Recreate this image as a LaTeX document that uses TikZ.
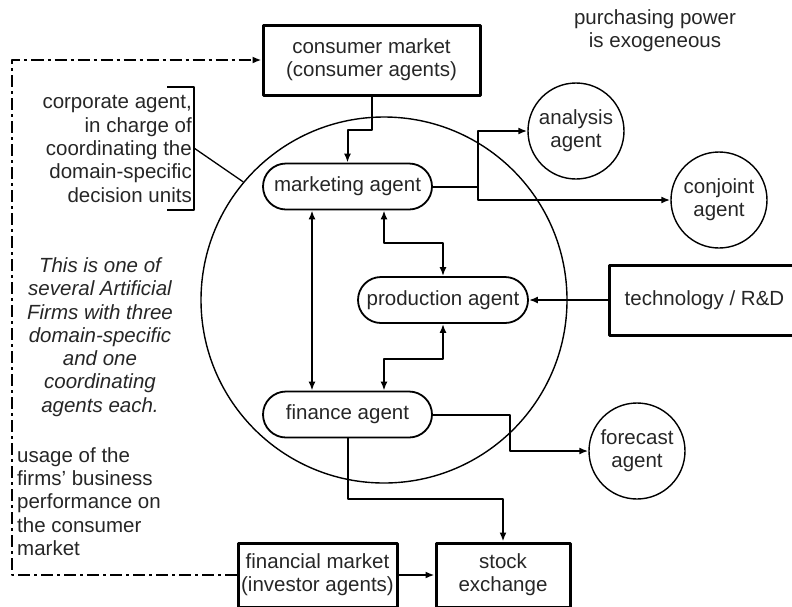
\documentclass[tikz,border=0pt]{standalone}
\usepackage{fontspec}
\setmainfont{Liberation Sans}
\usetikzlibrary{arrows.meta}
\begin{document}
\begin{tikzpicture}[x=1pt,y=-1pt,line join=round,
    font=\fontsize{20.5}{23.3}\selectfont,text=black!85,
    box/.style={draw,line width=3pt,align=center,inner sep=0pt},
    agent/.style={draw,line width=1.8pt,rounded corners=23pt,minimum height=46pt,inner sep=0pt},
    helper/.style={draw,circle,line width=1.4pt,minimum size=96pt,align=center,inner sep=0pt},
    arr/.style={-{Latex[length=9pt,width=7pt]},line width=2pt},
    both/.style={{Latex[length=9pt,width=7pt]}-{Latex[length=9pt,width=7pt]},line width=2pt},
    note/.style={inner sep=0pt}]
    \useasboundingbox (0,0) rectangle (792,606);
    \clip (0,0) rectangle (792,606);
    %firm
    \node[draw,circle,line width=1.4pt,minimum size=366pt] (firm) at (384,300) {};
    %boxes
    \node[box,minimum width=217pt,minimum height=70pt] (cm) at (371.5,60) {consumer market\\(consumer agents)};
    \node[box,minimum width=191pt,minimum height=70pt] (tech) at (704.5,300) {technology / R\&D};
    \node[box,minimum width=159pt,minimum height=64pt] (fmk) at (317.5,575) {financial market\\(investor agents)};
    \node[box,minimum width=134pt,minimum height=64pt] (stk) at (503,575) {stock\\exchange};
    %agents
    \node[agent,minimum width=169pt] (mkt) at (347.5,186.5) {marketing agent};
    \node[agent,minimum width=170pt] (prod) at (443,300) {production agent};
    \node[agent,minimum width=169pt] (fin) at (347.5,414.5) {finance agent};
    \node[helper] (ana) at (576,131) {analysis\\agent};
    \node[helper] (conj) at (719,200) {conjoint\\agent};
    \node[helper] (fore) at (637,451) {forecast\\agent};
    %texts
    \node[note,align=center] (pp) at (655,31) {purchasing power\\is exogeneous};
    \node[note,align=right,anchor=east] (corp) at (192,149) {corporate agent,\\in charge of\\coordinating the\\domain-specific\\decision units};
    \node[note,align=center,font=\fontsize{20.5}{23.3}\selectfont\itshape] (firms) at (100,337)
        {This is one of\\several Artificial\\Firms with three\\domain-specific\\and one\\coordinating\\agents each.};
    \node[note,align=left,anchor=west] (usage) at (17,501.5) {usage of the\\firms' business\\performance on\\the consumer\\market};
    %bracket
    \coordinate (b1) at (194,148);
    \draw[line width=1.3pt] (167,87) -- (194,87) -- (194,210) -- (167,210);
    \draw[line width=1.3pt] (b1) -- (firm.140);
    %connectors
    \draw[arr] (cm.south) -- ++(0,33) -| (mkt.north);
    \coordinate (s1) at (478,186.5);
    \draw[line width=2pt] (mkt.east) -- (s1);
    \draw[arr] (s1) |- (ana.west);
    \draw[arr] (s1) |- (conj.west);
    \draw[both] (mkt.south -| 312,0) -- (fin.north -| 312,0);
    \draw[both] (mkt.south -| 384,0) -- ++(0,33) -| (prod.north);
    \draw[both] (prod.south) -- ++(0,35) -| (fin.north -| 384,0);
    \draw[arr] (tech.west) -- (prod.east);
    \draw[arr] (fin.east) -| (510,451) -- (fore.west);
    \draw[arr] (fin.south) -- ++(0,61) -| (stk.north);
    \draw[arr] (fmk.east) -- (stk.west);
    \draw[arr,line width=2.2pt,dash pattern=on 12pt off 4pt on 3pt off 4pt] (fmk.west) -| (12,60) -- (cm.west);
\end{tikzpicture}
\end{document}
